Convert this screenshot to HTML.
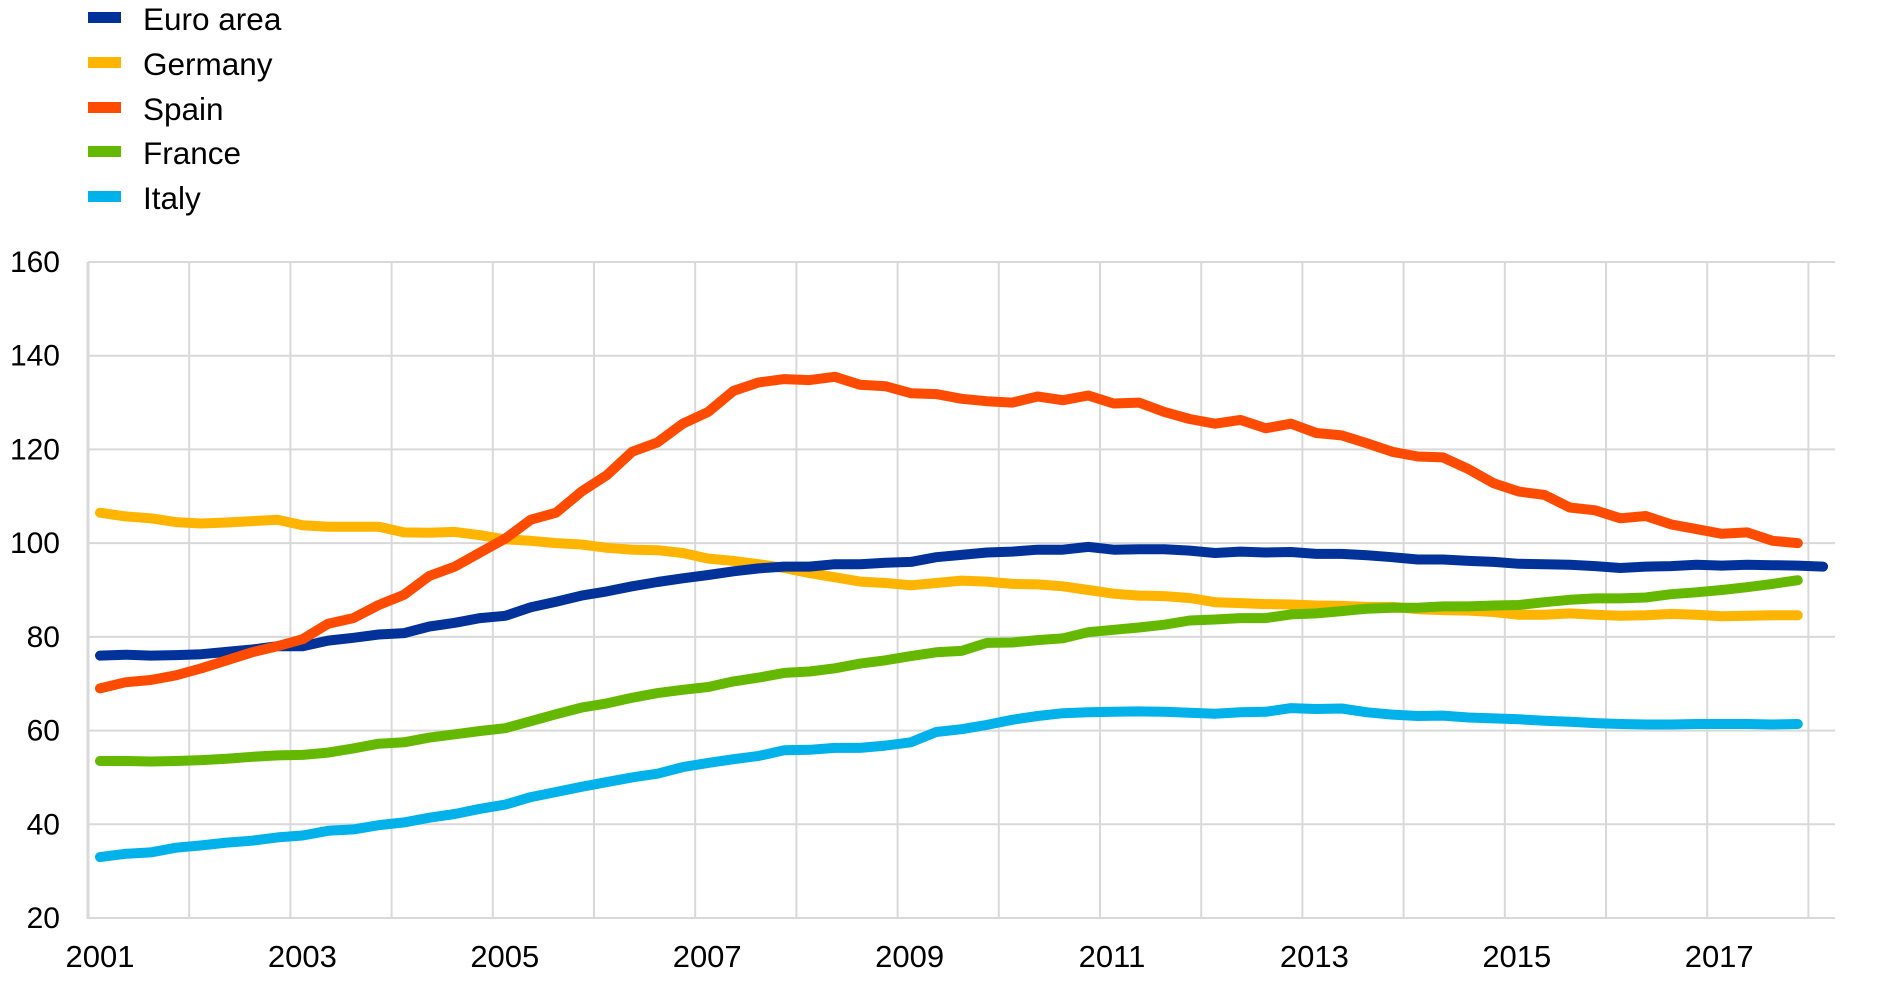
<!DOCTYPE html>
<html><head><meta charset="utf-8"><style>
html,body{margin:0;padding:0;background:#fff;}
svg{display:block;font-family:"Liberation Sans",Arial,sans-serif;}
</style></head><body>
<svg id="c" width="1890" height="987" viewBox="0 0 1890 987" xmlns="http://www.w3.org/2000/svg">
<g id="grid" stroke="#d9d9d9" stroke-width="2"></g>
<g id="ticks" font-size="30" fill="#000"></g>
<g id="lines" fill="none" stroke-width="10" stroke-linejoin="round" stroke-linecap="round"></g>
<g font-size="31.5" fill="#000">
<rect x="88" y="12" width="33" height="11" fill="#003299"/><text x="143" y="30">Euro area</text>
<rect x="88" y="57" width="33" height="11" fill="#ffb400"/><text x="143" y="75">Germany</text>
<rect x="88" y="102" width="33" height="11" fill="#ff4b00"/><text x="143" y="120">Spain</text>
<rect x="88" y="146" width="33" height="11" fill="#65b800"/><text x="143" y="164">France</text>
<rect x="88" y="191" width="33" height="11" fill="#00b1ea"/><text x="143" y="209">Italy</text>
</g>
</svg>
<script>
var NS="http://www.w3.org/2000/svg";
function el(p,t,a,txt){var e=document.createElementNS(NS,t);for(var k in a)e.setAttribute(k,a[k]);if(txt)e.textContent=txt;document.getElementById(p).appendChild(e);}
var X0=88,XR=1835,YT=262,YB=918;
function Y(v){return YB-(v-20)*(YB-YT)/140;}
for(var v=20;v<=160;v+=20){el("grid","line",{x1:X0,x2:XR,y1:Y(v),y2:Y(v)});el("ticks","text",{x:60,y:Y(v)+10,"text-anchor":"end"},String(v));}
for(var k=0;k<=17;k++){var x=X0+k*101.2;el("grid","line",{x1:x,x2:x,y1:YT,y2:YB});}
el("grid","line",{x1:X0,x2:X0,y1:YT,y2:YB+1,"stroke-width":3});
for(var y=2001;y<=2017;y+=2){el("ticks","text",{x:X0+12+(y-2001)*101.2,y:967,"text-anchor":"middle","font-size":"31"},String(y));}
var S={
"#ffb400":[106.5,105.7,105.3,104.5,104.2,104.4,104.7,105,103.8,103.5,103.5,103.5,102.3,102.2,102.4,101.7,100.8,100.5,100,99.7,99,98.6,98.5,97.9,96.7,96.2,95.5,94.7,93.6,92.7,91.8,91.5,91,91.5,92,91.8,91.3,91.2,90.8,90,89.2,88.8,88.7,88.3,87.4,87.2,87,86.9,86.7,86.6,86.4,86.4,85.9,85.7,85.6,85.3,84.7,84.7,85,84.7,84.5,84.6,84.9,84.7,84.4,84.5,84.6,84.6],
"#65b800":[53.5,53.5,53.4,53.5,53.7,54,54.4,54.7,54.8,55.3,56.2,57.2,57.5,58.5,59.2,59.9,60.5,62,63.5,64.9,65.8,67,68,68.7,69.3,70.5,71.3,72.3,72.6,73.3,74.3,75,75.9,76.7,77,78.7,78.8,79.3,79.7,81,81.5,82,82.6,83.5,83.7,84,84,84.8,85,85.5,86,86.2,86.2,86.5,86.5,86.7,86.8,87.4,87.9,88.2,88.2,88.4,89.1,89.5,90,90.6,91.3,92.1],
"#00b1ea":[33,33.7,34,35,35.5,36.1,36.5,37.2,37.6,38.6,38.9,39.8,40.4,41.4,42.2,43.3,44.2,45.8,46.9,48,49,50,50.8,52.2,53.1,53.9,54.6,55.8,55.9,56.3,56.3,56.8,57.5,59.7,60.3,61.2,62.3,63.1,63.7,63.9,64,64.1,64,63.8,63.6,63.9,64,64.8,64.6,64.7,63.9,63.4,63.1,63.2,62.8,62.6,62.4,62.1,61.9,61.6,61.4,61.3,61.3,61.4,61.4,61.4,61.3,61.4],
"#003299":[76,76.2,76,76.1,76.3,76.8,77.3,78,78,79.2,79.8,80.5,80.8,82.2,83,84,84.5,86.3,87.5,88.8,89.7,90.8,91.7,92.5,93.2,94,94.6,95,95,95.5,95.5,95.8,96,97,97.5,98,98.2,98.6,98.6,99.2,98.6,98.7,98.7,98.4,97.9,98.2,98,98.1,97.7,97.7,97.4,97,96.5,96.5,96.2,96,95.6,95.5,95.4,95.1,94.7,95,95.1,95.4,95.2,95.4,95.3,95.2,95],
"#ff4b00":[69,70.3,70.8,71.8,73.3,75,76.7,78,79.5,82.8,84,86.8,89,93,95,98,101,105,106.5,111,114.5,119.5,121.5,125.5,128,132.5,134.3,135,134.8,135.5,133.8,133.5,132,131.8,130.8,130.3,130,131.3,130.5,131.5,129.8,130,128,126.5,125.5,126.3,124.5,125.5,123.5,123,121.3,119.5,118.5,118.3,115.8,112.8,111,110.3,107.6,107,105.3,105.8,104,103,102,102.3,100.5,100]
};
for(var c in S){var p=S[c].map(function(v,i){return (100+25.34*i).toFixed(1)+","+Y(v).toFixed(1);}).join(" ");el("lines","polyline",{points:p,stroke:c});}
</script>
</body></html>
